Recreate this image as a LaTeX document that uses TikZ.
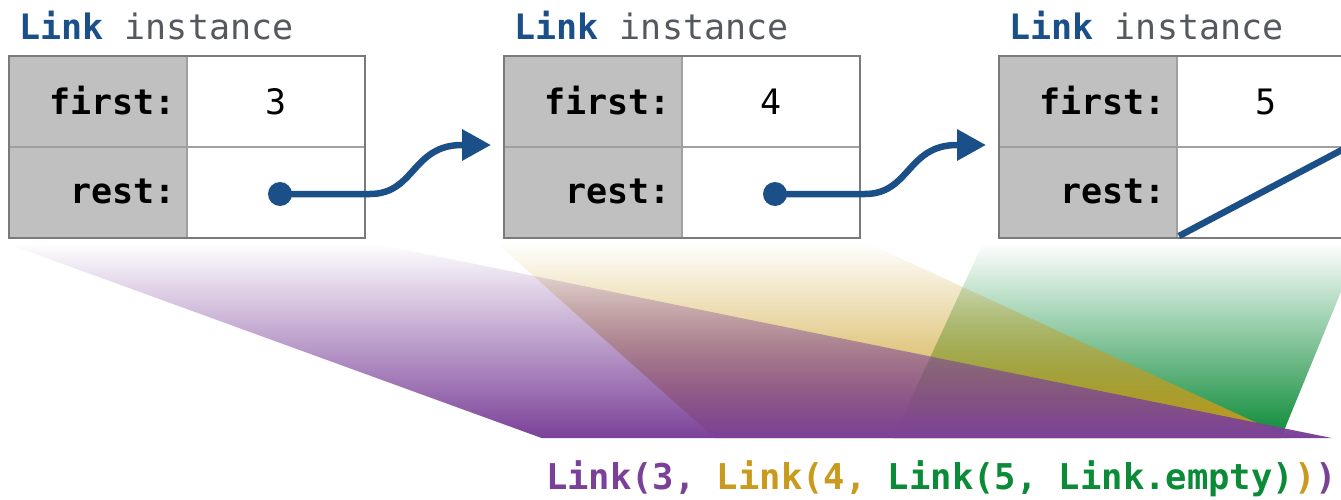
\documentclass[tikz,border=0pt]{standalone}
\usepackage{fontspec}
\setmonofont{DejaVu Sans Mono}
\usetikzlibrary{arrows.meta,fadings,calc}
\definecolor{lkblue}{HTML}{1B4F87}
\definecolor{lkgray}{HTML}{55595F}
\definecolor{cellgray}{HTML}{C0C0C0}
\definecolor{bordergray}{HTML}{7A7A7A}
\definecolor{innergray}{HTML}{A0A0A0}
\definecolor{lkpurple}{HTML}{7B4199}
\definecolor{lkgold}{HTML}{C89B1E}
\definecolor{lkgreen}{HTML}{0B8A37}
\tikzfading[name=fadeup, top color=transparent!100, bottom color=transparent!0]
\tikzset{
  mono/.style={font=\fontsize{35}{40}\selectfont\ttfamily, inner sep=0pt, outer sep=0pt},
  labelcell/.style={fill=cellgray, draw=innergray, line width=1.5pt, minimum width=178pt, minimum height=91pt, inner sep=0pt, outer sep=0pt},
  valcell/.style={fill=white, draw=innergray, line width=1.5pt, minimum width=178pt, minimum height=91pt, inner sep=0pt, outer sep=0pt},
  outerbox/.style={draw=bordergray, line width=2.8pt, minimum width=356pt, minimum height=182pt, inner sep=0pt, outer sep=0pt},
  dotnode/.style={circle, fill=lkblue, minimum size=24pt, inner sep=0pt},
  ptr/.style={draw=lkblue, line width=6.5pt, -{Triangle[length=29pt,width=30pt]}},
  nullline/.style={draw=lkblue, line width=6.5pt},
  fan/.style={path fading=fadeup}
}
\newcommand\linkinst[3]{%
  \begin{scope}[xshift=#2pt]
    \node[labelcell] (#1fl) at (98,101.5) {};
    \node[valcell]   (#1fv) at (276,101.5) {};
    \node[labelcell] (#1rl) at (98,192.5) {};
    \node[valcell]   (#1rv) at (276,192.5) {};
    \node[outerbox]  (#1) at (187,147) {};
    \node[mono, anchor=base west] (#1t) at (19.5,40) {\textcolor{lkblue}{\bfseries Link} \textcolor{lkgray}{instance}};
    \node[mono, anchor=base east] (#1ft) at (176,115) {\bfseries first:};
    \node[mono, anchor=base east] (#1rt) at (176,203) {\bfseries rest:};
    \node[mono, anchor=base] (#1v) at (276,115) {#3};
  \end{scope}}
\begin{document}
\begin{tikzpicture}[x=1pt, y=-1pt]
\useasboundingbox (0,0) rectangle (1341,500);
% fans
\fill[lkgreen, fan] (983,243) -- (1361,243) -- (1281,438) -- (893,438) -- cycle;
\fill[lkgold, fan] (497,243) -- (868,243) -- (1290,438) -- (715,438) -- cycle;
\fill[lkpurple, fan] (6,243) -- (373,243) -- (1334,438) -- (543,438) -- cycle;
% instances
\linkinst{A}{0}{3}
\linkinst{B}{495}{4}
\linkinst{C}{990}{5}
\node[dotnode] (Ad) at (280,194) {};
\node[dotnode] (Bd) at (775,194) {};
\draw[ptr] (Ad.center) -- ++(90,0) .. controls +(45,0) and +(-50,0) .. ([xshift=-42pt,yshift=2pt]B.west) -- ([xshift=-13pt,yshift=2pt]B.west);
\draw[ptr] (Bd.center) -- ++(90,0) .. controls +(45,0) and +(-50,0) .. ([xshift=-42pt,yshift=2pt]C.west) -- ([xshift=-13pt,yshift=2pt]C.west);
\draw[nullline] ([shift={(2pt,2pt)}]Crv.south west) -- ([yshift=4pt]Crv.north east);
% code
\node[mono, font=\fontsize{35.5}{40}\selectfont\ttfamily\bfseries, anchor=base west] (code) at (546,489)
  {\textcolor{lkpurple}{Link(3, }\textcolor{lkgold}{Link(4, }\textcolor{lkgreen}{Link(5, Link.empty)}\textcolor{lkgold}{)}\textcolor{lkpurple}{)}};
\end{tikzpicture}
\end{document}
